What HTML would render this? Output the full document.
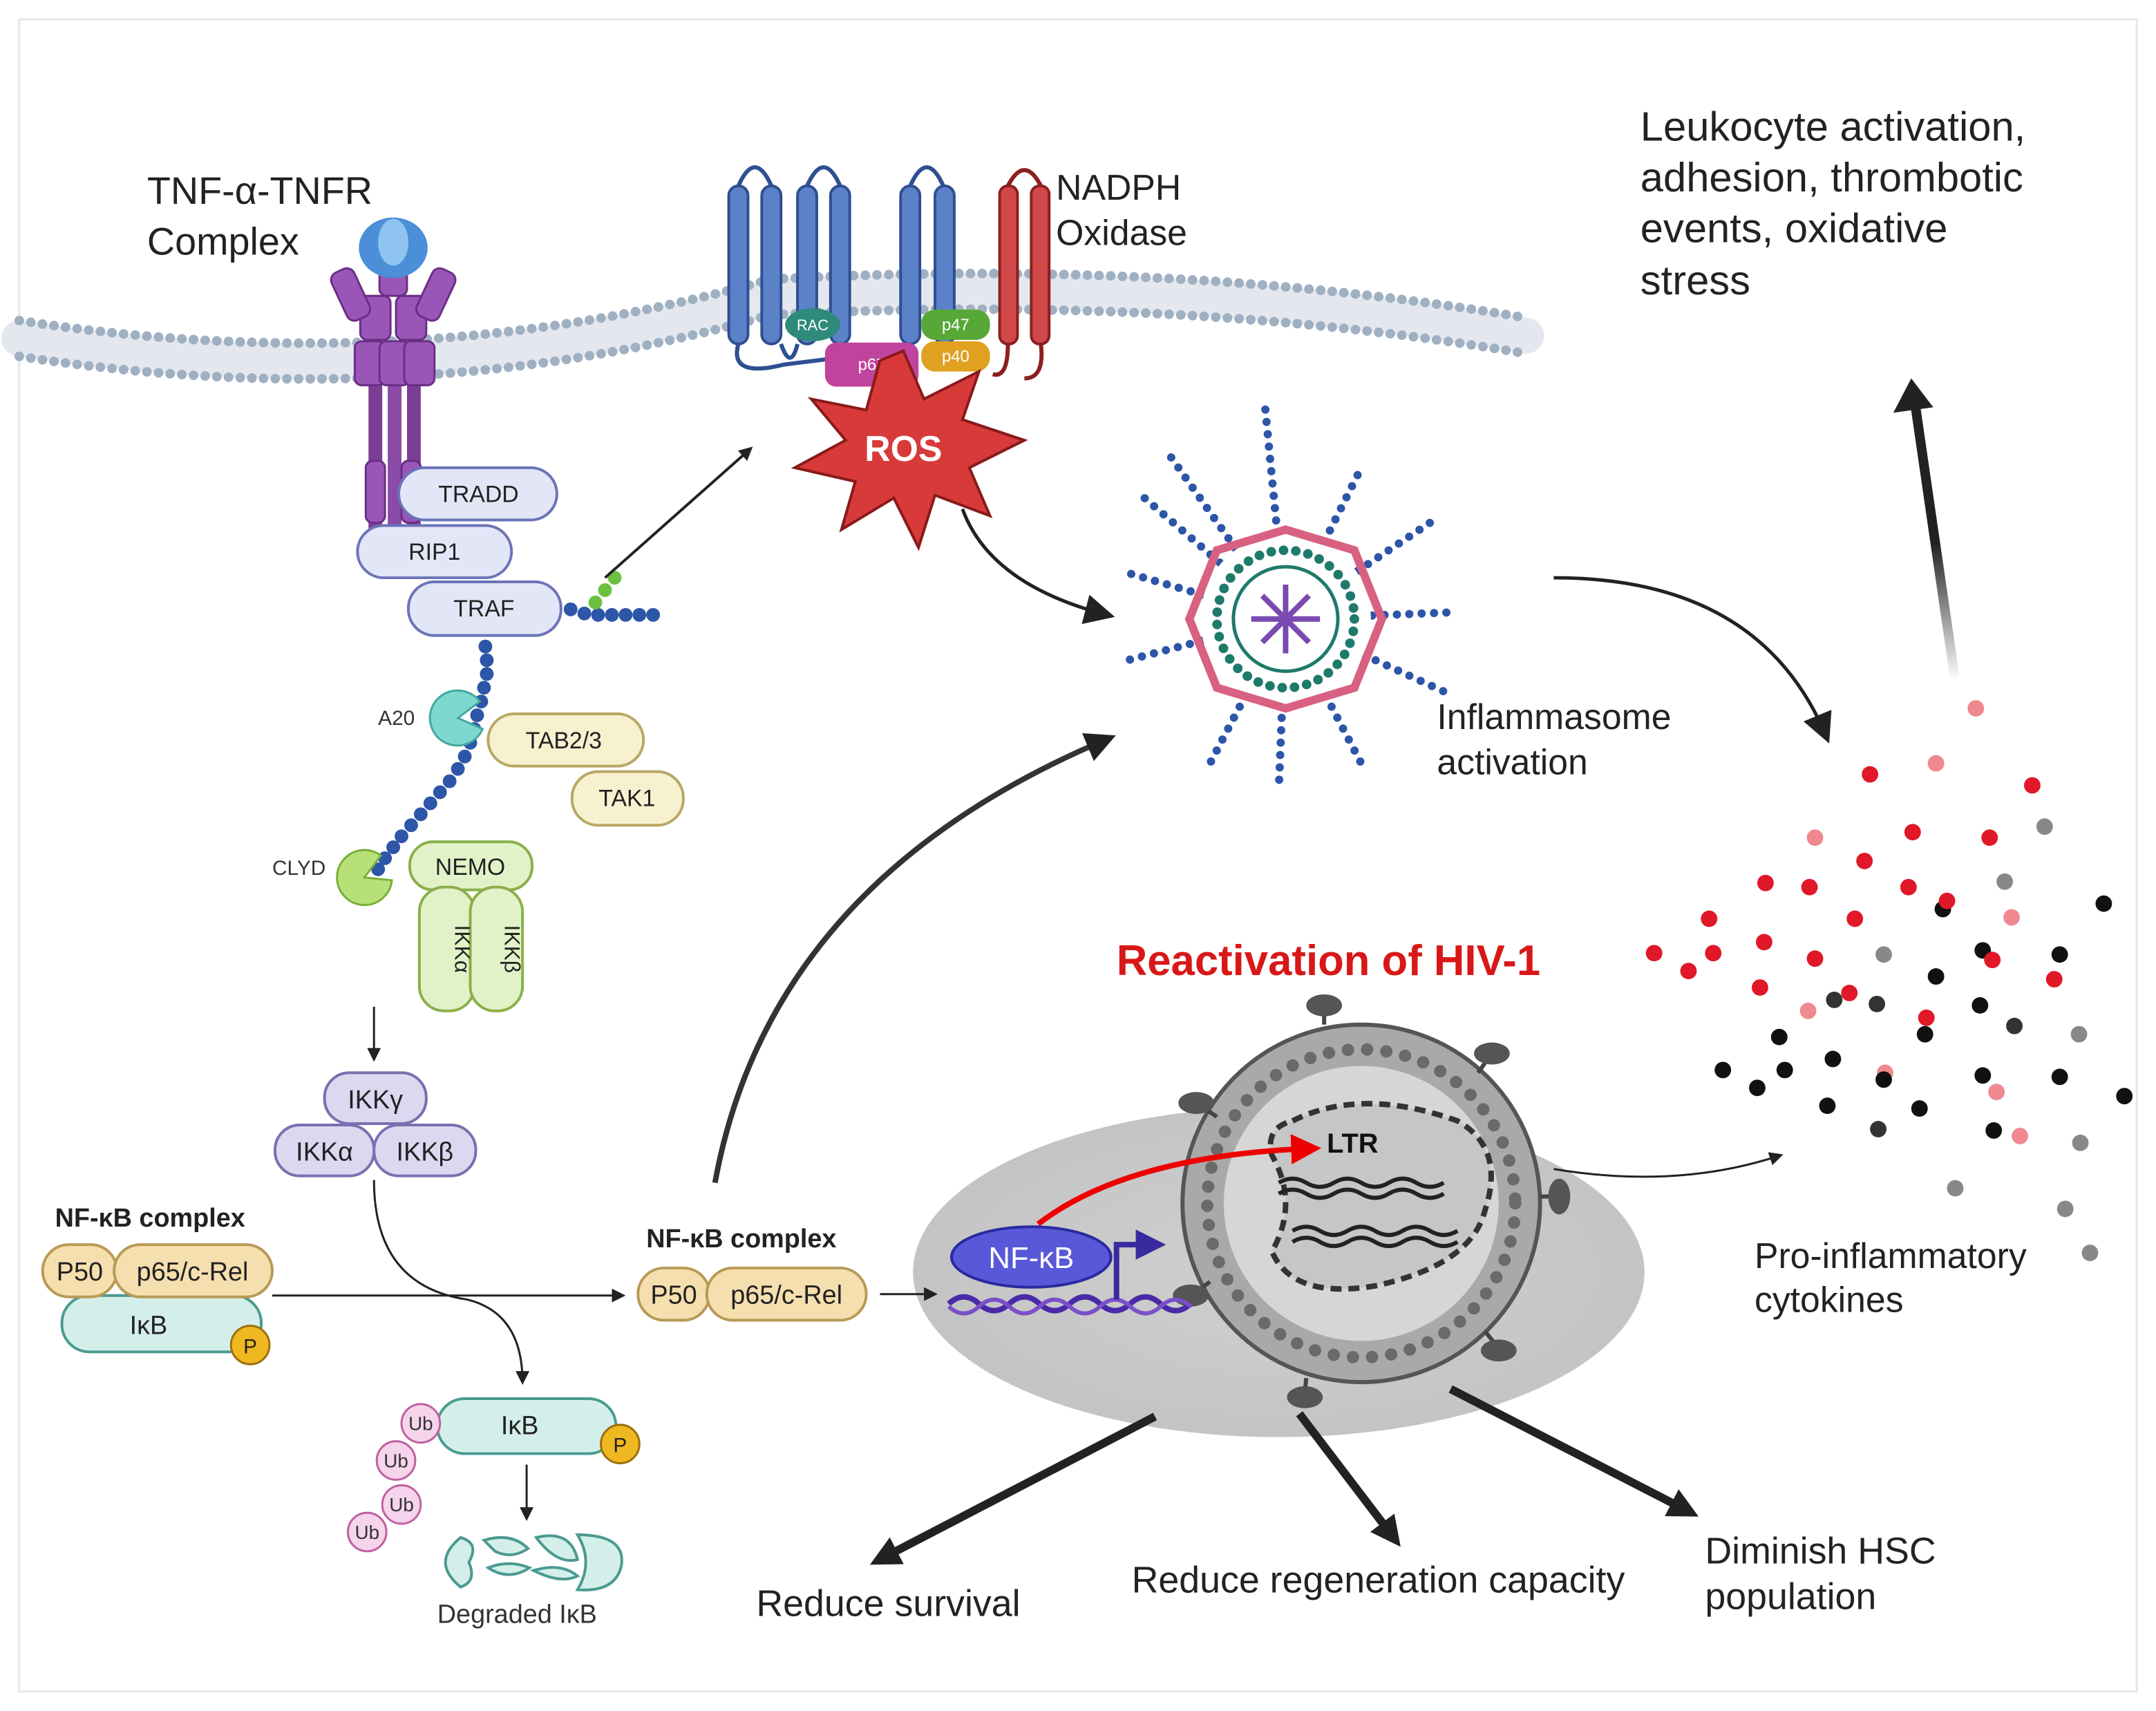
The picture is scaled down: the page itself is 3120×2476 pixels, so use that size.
<!DOCTYPE html>
<html><head><meta charset="utf-8"><style>
html,body{margin:0;padding:0;background:#fff}
svg{display:block}
text{font-family:"Liberation Sans",Arial,sans-serif}
</style></head><body>
<svg width="3120" height="2476" viewBox="0 0 1568 1244" xmlns="http://www.w3.org/2000/svg">
<defs>
<marker id="ah" markerWidth="10" markerHeight="10" refX="8" refY="5" orient="auto" markerUnits="userSpaceOnUse"><path d="M0,0 L10,5 L0,10 z" fill="#222"/></marker>
<marker id="ahb" markerWidth="22" markerHeight="22" refX="16" refY="11" orient="auto" markerUnits="userSpaceOnUse"><path d="M0,0 L22,11 L0,22 z" fill="#222"/></marker>
<marker id="ahr" markerWidth="22" markerHeight="22" refX="16" refY="11" orient="auto" markerUnits="userSpaceOnUse"><path d="M0,0 L22,11 L0,22 z" fill="#e00"/></marker>
<marker id="ahp" markerWidth="22" markerHeight="22" refX="12" refY="11" orient="auto" markerUnits="userSpaceOnUse"><path d="M0,0 L22,11 L0,22 z" fill="#3a2aa0"/></marker>
<linearGradient id="fadeUp" x1="0" y1="1" x2="0" y2="0"><stop offset="0" stop-color="#222" stop-opacity="0"/><stop offset="0.5" stop-color="#222"/></linearGradient>
<radialGradient id="ell" cx="0.5" cy="0.5" r="0.5"><stop offset="0" stop-color="#d0d0d0"/><stop offset="1" stop-color="#c4c4c4"/></radialGradient>
</defs>
<rect x="0" y="0" width="1568" height="1244" fill="#fff"/>
<rect x="14" y="14" width="1540" height="1216" fill="none" stroke="#e6e6e6" stroke-width="1.5"/>

<!-- membrane -->
<g fill="none" stroke-linecap="round">
<path d="M14,246 Q300,290 560,216 Q850,200 1110,244" stroke="#e4e8ee" stroke-width="26"/>
<path d="M14,233 Q300,277 560,203 Q850,187 1110,231" stroke="#9fb0c2" stroke-width="7" stroke-dasharray="0 8.5"/>
<path d="M14,259 Q300,303 560,229 Q850,213 1110,257" stroke="#9fb0c2" stroke-width="7" stroke-dasharray="0 8.5"/>
</g>

<!-- TNF receptor -->
<g>
<rect x="268" y="280" width="10" height="110" fill="#7a3f94"/>
<rect x="282" y="280" width="10" height="110" fill="#8a4aa6"/>
<rect x="296" y="280" width="10" height="110" fill="#7a3f94"/>
<g fill="#9a56b6" stroke="#6a2e86" stroke-width="1.5">
<rect x="276" y="180" width="20" height="35" rx="5"/>
<rect x="262" y="215" width="22" height="32" rx="5"/><rect x="288" y="215" width="22" height="32" rx="5"/>
<rect x="258" y="248" width="22" height="32" rx="5"/><rect x="276" y="248" width="22" height="32" rx="5"/><rect x="294" y="248" width="22" height="32" rx="5"/>
<rect x="246" y="195" width="18" height="38" rx="6" transform="rotate(-25 255 214)"/>
<rect x="308" y="195" width="18" height="38" rx="6" transform="rotate(25 317 214)"/>
<rect x="266" y="335" width="14" height="45" rx="5"/><rect x="292" y="335" width="14" height="45" rx="5"/>
</g>
<ellipse cx="286" cy="180" rx="25" ry="22" fill="#4a8fd8"/>
<ellipse cx="286" cy="176" rx="11" ry="17" fill="#8fc4f0"/>
</g>
<text x="107" y="148" font-size="28" fill="#222">TNF-α-TNFR</text>
<text x="107" y="185" font-size="28" fill="#222">Complex</text>

<!-- NADPH -->
<g fill="#5b82c8" stroke="#2e4f90" stroke-width="2">
<rect x="530" y="135" width="14" height="115" rx="7"/><rect x="554" y="135" width="14" height="115" rx="7"/>
<rect x="580" y="135" width="14" height="115" rx="7"/><rect x="604" y="135" width="14" height="115" rx="7"/>
<rect x="655" y="135" width="14" height="115" rx="7"/><rect x="680" y="135" width="14" height="115" rx="7"/>
</g>
<g fill="none" stroke="#2e4f90" stroke-width="3">
<path d="M537,135 Q549,108 561,135"/><path d="M587,135 Q599,108 611,135"/><path d="M662,135 Q674,108 686,135"/>
<path d="M568,250 Q575,270 580,250"/><path d="M618,250 Q640,262 655,250"/>
<path d="M537,250 Q530,275 570,265 L610,260"/>
</g>
<g fill="#d04848" stroke="#8a2020" stroke-width="2">
<rect x="727" y="135" width="13" height="115" rx="6"/><rect x="750" y="135" width="13" height="115" rx="6"/>
</g>
<path d="M733,135 Q745,112 757,135" fill="none" stroke="#8a2020" stroke-width="3"/>
<path d="M733,250 Q733,275 722,272 M757,250 Q760,275 745,275" fill="none" stroke="#8a2020" stroke-width="3"/>
<ellipse cx="591" cy="236" rx="20" ry="12" fill="#2e8a7a"/><text x="591" y="240" font-size="11" fill="#fff" text-anchor="middle">RAC</text>
<rect x="600" y="249" width="68" height="32" rx="8" fill="#c0449e"/><text x="634" y="269" font-size="12" fill="#fff" text-anchor="middle">p67</text>
<rect x="670" y="225" width="50" height="22" rx="10" fill="#58a838"/><text x="695" y="240" font-size="12" fill="#fff" text-anchor="middle">p47</text>
<rect x="670" y="248" width="50" height="22" rx="10" fill="#e0a020"/><text x="695" y="263" font-size="12" fill="#fff" text-anchor="middle">p40</text>
<text x="768" y="145" font-size="26" fill="#222">NADPH</text>
<text x="768" y="178" font-size="26" fill="#222">Oxidase</text>

<!-- ROS -->
<polygon points="657,255 672,290 712,270 700,305 745,320 705,340 720,375 680,360 668,398 650,362 612,385 622,350 578,340 615,320 590,290 630,298 640,262" fill="#d83a3a" stroke="#8a1a1a" stroke-width="2"/>
<text x="657" y="335" font-size="26" font-weight="bold" fill="#fff" text-anchor="middle">ROS</text>

<!-- TNF signaling boxes -->
<g font-size="17" fill="#222" text-anchor="middle">
<rect x="290" y="340" width="115" height="38" rx="19" fill="#e3e6f6" stroke="#6b74b8" stroke-width="2"/><text x="348" y="365">TRADD</text>
<rect x="260" y="382" width="112" height="38" rx="19" fill="#e3e6f6" stroke="#6b74b8" stroke-width="2"/><text x="316" y="407">RIP1</text>
<rect x="297" y="423" width="111" height="39" rx="19" fill="#e3e6f6" stroke="#6b74b8" stroke-width="2"/><text x="352" y="448">TRAF</text>
</g>
<g fill="#2d55a8">
<circle cx="415" cy="443" r="5"/><circle cx="425" cy="446" r="5"/><circle cx="435" cy="447" r="5"/><circle cx="445" cy="447" r="5"/><circle cx="455" cy="447" r="5"/><circle cx="465" cy="447" r="5"/><circle cx="475" cy="447" r="5"/>
</g>
<g fill="#6cc040"><circle cx="433" cy="438" r="5"/><circle cx="440" cy="429" r="5"/><circle cx="447" cy="420" r="5"/></g>
<g fill="#2d55a8">
<circle cx="353" cy="470" r="5"/><circle cx="354" cy="480" r="5"/><circle cx="354" cy="490" r="5"/><circle cx="352" cy="500" r="5"/><circle cx="350" cy="510" r="5"/><circle cx="347" cy="520" r="5"/><circle cx="345" cy="530" r="5"/><circle cx="342" cy="540" r="5"/><circle cx="338" cy="550" r="5"/><circle cx="333" cy="559" r="5"/><circle cx="327" cy="568" r="5"/><circle cx="320" cy="576" r="5"/><circle cx="313" cy="584" r="5"/><circle cx="306" cy="592" r="5"/><circle cx="299" cy="600" r="5"/><circle cx="292" cy="608" r="5"/><circle cx="286" cy="616" r="5"/><circle cx="280" cy="624" r="5"/><circle cx="275" cy="632" r="5"/>
</g>
<path d="M333,522 m0,-20 a20,20 0 1,0 18,28 l-18,-8 l16,-12 a20,20 0 0,0 -16,-8z" fill="#7ed8d0" stroke="#40a8a0" stroke-width="1.5"/>
<text x="275" y="527" font-size="15" fill="#333">A20</text>
<path d="M265,618 a20,20 0 1,0 20,22 l-20,-2 l12,-16 a20,20 0 0,0 -12,-4z" fill="#b8e078" stroke="#78b038" stroke-width="1.5"/>
<text x="198" y="636" font-size="15" fill="#333">CLYD</text>
<g font-size="17" fill="#222" text-anchor="middle">
<rect x="355" y="519" width="113" height="38" rx="19" fill="#f7f1cf" stroke="#b8a866" stroke-width="2"/><text x="410" y="544">TAB2/3</text>
<rect x="416" y="561" width="81" height="39" rx="19" fill="#f7f1cf" stroke="#b8a866" stroke-width="2"/><text x="456" y="586">TAK1</text>
<rect x="298" y="612" width="89" height="35" rx="17" fill="#e2f2c8" stroke="#8ab04a" stroke-width="2"/><text x="342" y="636">NEMO</text>
<rect x="305" y="645" width="40" height="90" rx="18" fill="#e2f2c8" stroke="#8ab04a" stroke-width="2"/>
<rect x="342" y="645" width="38" height="90" rx="18" fill="#e2f2c8" stroke="#8ab04a" stroke-width="2"/>
<text transform="translate(331,690) rotate(90)" font-size="16">IKKα</text>
<text transform="translate(367,690) rotate(90)" font-size="16">IKKβ</text>
</g>
<line x1="272" y1="732" x2="272" y2="770" stroke="#222" stroke-width="1.5" marker-end="url(#ah)"/>
<g font-size="19" fill="#222" text-anchor="middle">
<rect x="236" y="780" width="74" height="37" rx="18" fill="#ddd8f0" stroke="#7a6fb0" stroke-width="2"/><text x="273" y="806">IKKγ</text>
<rect x="200" y="818" width="72" height="37" rx="18" fill="#ddd8f0" stroke="#7a6fb0" stroke-width="2"/><text x="236" y="844">IKKα</text>
<rect x="272" y="818" width="74" height="37" rx="18" fill="#ddd8f0" stroke="#7a6fb0" stroke-width="2"/><text x="309" y="844">IKKβ</text>
</g>
<text x="40" y="892" font-size="19" font-weight="bold" fill="#222">NF-κB complex</text>
<g font-size="19" fill="#222" text-anchor="middle">
<rect x="45" y="942" width="145" height="41" rx="20" fill="#d4efea" stroke="#4a9a90" stroke-width="2"/><text x="108" y="970">IκB</text>
<rect x="31" y="905" width="54" height="38" rx="19" fill="#f5dfae" stroke="#b89a55" stroke-width="2"/><text x="58" y="931">P50</text>
<rect x="83" y="905" width="115" height="38" rx="19" fill="#f5dfae" stroke="#b89a55" stroke-width="2"/><text x="140" y="931">p65/c-Rel</text>
<circle cx="182" cy="978" r="14" fill="#f0b820" stroke="#9a7010" stroke-width="1.5"/><text x="182" y="984" font-size="15">P</text>
</g>
<line x1="198" y1="942" x2="453" y2="942" stroke="#222" stroke-width="1.5" marker-end="url(#ah)"/>
<path d="M272,858 Q272,935 340,945 Q380,955 380,1005" fill="none" stroke="#222" stroke-width="1.5" marker-end="url(#ah)"/>
<g font-size="19" fill="#222" text-anchor="middle">
<rect x="318" y="1017" width="130" height="40" rx="20" fill="#d4efea" stroke="#4a9a90" stroke-width="2"/><text x="378" y="1043">IκB</text>
<circle cx="451" cy="1050" r="14" fill="#f0b820" stroke="#9a7010" stroke-width="1.5"/><text x="451" y="1056" font-size="15">P</text>
</g>
<g font-size="14" fill="#333" text-anchor="middle">
<circle cx="306" cy="1035" r="14" fill="#f6d4ec" stroke="#c060a0" stroke-width="1.5"/><text x="306" y="1040">Ub</text>
<circle cx="288" cy="1062" r="14" fill="#f6d4ec" stroke="#c060a0" stroke-width="1.5"/><text x="288" y="1067">Ub</text>
<circle cx="292" cy="1094" r="14" fill="#f6d4ec" stroke="#c060a0" stroke-width="1.5"/><text x="292" y="1099">Ub</text>
<circle cx="267" cy="1114" r="14" fill="#f6d4ec" stroke="#c060a0" stroke-width="1.5"/><text x="267" y="1119">Ub</text>
</g>
<line x1="383" y1="1065" x2="383" y2="1104" stroke="#222" stroke-width="1.5" marker-end="url(#ah)"/>
<g fill="#d4efea" stroke="#4a9a90" stroke-width="2">
<path d="M335,1118 q-22,18 0,36 q12,-4 6,-18 q8,-14 -6,-18z"/>
<path d="M352,1120 q20,-6 32,6 q-12,8 -24,2 z M355,1140 q15,10 30,0 q-15,-6 -30,0z"/>
<path d="M390,1118 q25,-6 30,16 q-15,4 -30,-16z M388,1142 q20,10 32,4 q-12,-10 -32,-4z"/>
<path d="M420,1116 q35,0 32,22 q-4,20 -32,18 q12,-20 0,-40z"/>
</g>
<text x="318" y="1180" font-size="19" fill="#333">Degraded IκB</text>

<!-- Inflammasome -->
<g stroke="#2d55a8" stroke-width="6" stroke-dasharray="0 9" stroke-linecap="round">
<line x1="935" y1="450" x2="850" y2="330"/><line x1="935" y1="450" x2="920" y2="295"/><line x1="935" y1="450" x2="990" y2="340"/>
<line x1="935" y1="450" x2="1040" y2="380"/><line x1="935" y1="450" x2="1060" y2="445"/><line x1="935" y1="450" x2="1055" y2="505"/>
<line x1="935" y1="450" x2="990" y2="555"/><line x1="935" y1="450" x2="930" y2="575"/><line x1="935" y1="450" x2="880" y2="555"/>
<line x1="935" y1="450" x2="820" y2="480"/><line x1="935" y1="450" x2="815" y2="415"/><line x1="935" y1="450" x2="830" y2="360"/>
</g>
<circle cx="935" cy="450" r="62" fill="#fff"/>
<polygon points="935,385 985,400 1005,450 985,500 935,515 885,500 865,450 885,400" fill="none" stroke="#d86080" stroke-width="6"/>
<circle cx="935" cy="450" r="50" fill="none" stroke="#1e7a6a" stroke-width="7" stroke-dasharray="0 9" stroke-linecap="round"/>
<circle cx="935" cy="450" r="38" fill="none" stroke="#1e7a6a" stroke-width="2.5"/>
<g stroke="#7a4ab0" stroke-width="4"><line x1="910" y1="450" x2="960" y2="450"/><line x1="935" y1="425" x2="935" y2="475"/><line x1="918" y1="433" x2="952" y2="467"/><line x1="918" y1="467" x2="952" y2="433"/></g>
<text x="1045" y="530" font-size="26" fill="#222">Inflammasome</text>
<text x="1045" y="563" font-size="26" fill="#222">activation</text>

<!-- Arrows top -->
<line x1="440" y1="420" x2="546" y2="326" stroke="#222" stroke-width="2" marker-end="url(#ah)"/>
<path d="M700,370 Q720,425 805,447" fill="none" stroke="#222" stroke-width="2.5" marker-end="url(#ahb)"/>
<path d="M1130,420 Q1280,420 1328,535" fill="none" stroke="#222" stroke-width="2.5" marker-end="url(#ahb)"/>
<path d="M520,860 Q560,640 806,537" fill="none" stroke="#333" stroke-width="4" marker-end="url(#ahb)"/>
<line x1="1422" y1="495" x2="1393" y2="295" stroke="url(#fadeUp)" stroke-width="7"/>
<path d="M1377,300 L1390,275 L1406,296 z" fill="#222"/>
<text x="1193" y="102" font-size="30" fill="#222">Leukocyte activation,</text>
<text x="1193" y="139" font-size="30" fill="#222">adhesion, thrombotic</text>
<text x="1193" y="176" font-size="30" fill="#222">events, oxidative</text>
<text x="1193" y="214" font-size="30" fill="#222">stress</text>

<!-- cytokine dots -->
<g>
<circle cx="1437" cy="515" r="6" fill="#f08890"/><circle cx="1360" cy="563" r="6" fill="#e01828"/><circle cx="1408" cy="555" r="6" fill="#f08890"/><circle cx="1478" cy="571" r="6" fill="#e01828"/>
<circle cx="1320" cy="609" r="6" fill="#f08890"/><circle cx="1391" cy="605" r="6" fill="#e01828"/><circle cx="1447" cy="609" r="6" fill="#e01828"/><circle cx="1487" cy="601" r="6" fill="#888"/>
<circle cx="1356" cy="626" r="6" fill="#e01828"/><circle cx="1284" cy="642" r="6" fill="#e01828"/><circle cx="1316" cy="645" r="6" fill="#e01828"/><circle cx="1388" cy="645" r="6" fill="#e01828"/>
<circle cx="1458" cy="641" r="6" fill="#888"/><circle cx="1530" cy="657" r="6" fill="#111"/><circle cx="1413" cy="661" r="6" fill="#111"/><circle cx="1463" cy="667" r="6" fill="#f08890"/>
<circle cx="1243" cy="668" r="6" fill="#e01828"/><circle cx="1349" cy="668" r="6" fill="#e01828"/><circle cx="1416" cy="655" r="6" fill="#e01828"/><circle cx="1203" cy="693" r="6" fill="#e01828"/>
<circle cx="1246" cy="693" r="6" fill="#e01828"/><circle cx="1283" cy="685" r="6" fill="#e01828"/><circle cx="1320" cy="697" r="6" fill="#e01828"/><circle cx="1370" cy="694" r="6" fill="#888"/>
<circle cx="1442" cy="691" r="6" fill="#111"/><circle cx="1449" cy="698" r="6" fill="#e01828"/><circle cx="1498" cy="694" r="6" fill="#111"/><circle cx="1228" cy="706" r="6" fill="#e01828"/>
<circle cx="1280" cy="718" r="6" fill="#e01828"/><circle cx="1345" cy="722" r="6" fill="#e01828"/><circle cx="1408" cy="710" r="6" fill="#111"/><circle cx="1494" cy="712" r="6" fill="#e01828"/>
<circle cx="1315" cy="735" r="6" fill="#f08890"/><circle cx="1334" cy="727" r="6" fill="#333"/><circle cx="1365" cy="730" r="6" fill="#333"/><circle cx="1401" cy="740" r="6" fill="#e01828"/>
<circle cx="1440" cy="731" r="6" fill="#111"/><circle cx="1465" cy="746" r="6" fill="#333"/><circle cx="1512" cy="752" r="6" fill="#888"/><circle cx="1294" cy="754" r="6" fill="#111"/>
<circle cx="1400" cy="752" r="6" fill="#111"/><circle cx="1333" cy="770" r="6" fill="#111"/><circle cx="1253" cy="778" r="6" fill="#111"/><circle cx="1298" cy="778" r="6" fill="#111"/>
<circle cx="1371" cy="780" r="6" fill="#f08890"/><circle cx="1370" cy="785" r="6" fill="#111"/><circle cx="1442" cy="782" r="6" fill="#111"/><circle cx="1498" cy="783" r="6" fill="#111"/>
<circle cx="1278" cy="791" r="6" fill="#111"/><circle cx="1452" cy="794" r="6" fill="#f08890"/><circle cx="1545" cy="797" r="6" fill="#111"/><circle cx="1329" cy="804" r="6" fill="#111"/>
<circle cx="1396" cy="806" r="6" fill="#111"/><circle cx="1366" cy="821" r="6" fill="#333"/><circle cx="1450" cy="822" r="6" fill="#111"/><circle cx="1469" cy="826" r="6" fill="#f08890"/>
<circle cx="1513" cy="831" r="6" fill="#888"/><circle cx="1422" cy="864" r="6" fill="#888"/><circle cx="1502" cy="879" r="6" fill="#888"/><circle cx="1520" cy="911" r="6" fill="#888"/>
</g>
<text x="1276" y="922" font-size="26" fill="#222">Pro-inflammatory</text>
<text x="1276" y="954" font-size="26" fill="#222">cytokines</text>

<!-- HIV region -->
<ellipse cx="930" cy="925" rx="266" ry="120" fill="url(#ell)"/>
<text x="812" y="709" font-size="31" font-weight="bold" fill="#d81818">Reactivation of HIV-1</text>
<circle cx="990" cy="875" r="130" fill="#a9a9a9" stroke="#555" stroke-width="3"/>
<circle cx="990" cy="875" r="112" fill="none" stroke="#6a6a6a" stroke-width="9" stroke-dasharray="0 14" stroke-linecap="round"/>
<circle cx="990" cy="875" r="100" fill="#d6d6d6"/>
<g stroke="#444" stroke-width="3">
<line x1="963" y1="745" x2="963" y2="735"/><line x1="1075" y1="780" x2="1082" y2="770"/><line x1="1120" y1="870" x2="1130" y2="870"/>
<line x1="1080" y1="968" x2="1088" y2="978"/><line x1="950" y1="1002" x2="949" y2="1012"/><line x1="880" y1="932" x2="872" y2="938"/><line x1="885" y1="812" x2="876" y2="806"/>
</g>
<g fill="#555">
<ellipse cx="963" cy="731" rx="13" ry="8"/><ellipse cx="1085" cy="766" rx="13" ry="8"/><ellipse cx="1134" cy="870" rx="8" ry="13"/>
<ellipse cx="1090" cy="982" rx="13" ry="8"/><ellipse cx="949" cy="1016" rx="13" ry="8"/><ellipse cx="866" cy="942" rx="13" ry="8"/><ellipse cx="870" cy="802" rx="13" ry="8"/>
</g>
<path d="M940,815 Q990,790 1060,815 Q1095,835 1080,880 Q1070,920 1000,935 Q940,945 925,910 Q945,875 925,840 Q920,820 940,815z" fill="#c6c6c6" stroke="#333" stroke-width="4" stroke-dasharray="8 5"/>
<path d="M930,860 q10,-6 20,0 t20,0 t20,0 t20,0 t20,0 t20,0" fill="none" stroke="#222" stroke-width="3"/>
<path d="M930,868 q10,-6 20,0 t20,0 t20,0 t20,0 t20,0 t20,0" fill="none" stroke="#222" stroke-width="3"/>
<path d="M940,895 q10,-6 20,0 t20,0 t20,0 t20,0 t20,0 t20,0" fill="none" stroke="#222" stroke-width="3"/>
<path d="M940,903 q10,-6 20,0 t20,0 t20,0 t20,0 t20,0 t20,0" fill="none" stroke="#222" stroke-width="3"/>
<text x="965" y="838" font-size="20" font-weight="bold" fill="#111">LTR</text>
<path d="M755,890 Q820,840 955,835" fill="none" stroke="#e00" stroke-width="4" marker-end="url(#ahr)"/>
<path d="M690,948 q11,-10 22,0 t22,0 t22,0 t22,0 t22,0 t22,0 t22,0 t22,0" fill="none" stroke="#4a2aa8" stroke-width="4"/>
<path d="M690,950 q11,10 22,0 t22,0 t22,0 t22,0 t22,0 t22,0 t22,0 t22,0" fill="none" stroke="#7a50c8" stroke-width="3"/>
<path d="M812,945 L812,905 L838,905" fill="none" stroke="#3a2aa0" stroke-width="4" marker-end="url(#ahp)"/>
<ellipse cx="750" cy="914" rx="58" ry="22" fill="#5858d8" stroke="#2a2aa0" stroke-width="2"/>
<text x="750" y="922" font-size="22" fill="#fff" text-anchor="middle">NF-κB</text>

<text x="470" y="907" font-size="19" font-weight="bold" fill="#222">NF-κB complex</text>
<g font-size="19" fill="#222" text-anchor="middle">
<rect x="464" y="922" width="52" height="38" rx="19" fill="#f5dfae" stroke="#b89a55" stroke-width="2"/><text x="490" y="948">P50</text>
<rect x="514" y="922" width="116" height="38" rx="19" fill="#f5dfae" stroke="#b89a55" stroke-width="2"/><text x="572" y="948">p65/c-Rel</text>
</g>
<line x1="640" y1="941" x2="680" y2="941" stroke="#222" stroke-width="1.5" marker-end="url(#ah)"/>
<path d="M1130,850 Q1220,865 1295,840" fill="none" stroke="#222" stroke-width="1.5" marker-end="url(#ah)"/>

<!-- bottom arrows -->
<line x1="840" y1="1030" x2="638" y2="1135" stroke="#222" stroke-width="6" marker-end="url(#ahb)"/>
<line x1="945" y1="1028" x2="1015" y2="1120" stroke="#222" stroke-width="6" marker-end="url(#ahb)"/>
<line x1="1055" y1="1010" x2="1230" y2="1100" stroke="#222" stroke-width="6" marker-end="url(#ahb)"/>
<text x="550" y="1175" font-size="27" fill="#222">Reduce survival</text>
<text x="823" y="1158" font-size="27" fill="#222">Reduce regeneration capacity</text>
<text x="1240" y="1137" font-size="27" fill="#222">Diminish HSC</text>
<text x="1240" y="1170" font-size="27" fill="#222">population</text>
</svg>
</body></html>
